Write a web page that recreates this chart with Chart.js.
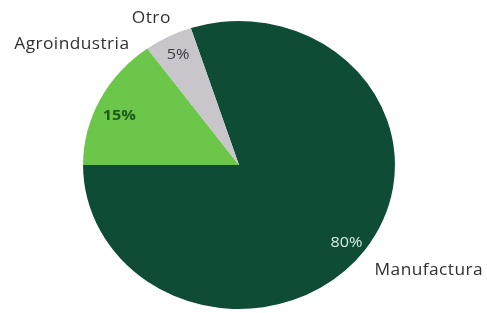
<!DOCTYPE html>
<html>
<head>
<meta charset="utf-8">
<script src="https://cdn.jsdelivr.net/npm/chart.js@4/dist/chart.umd.min.js"></script>
<style>
  html, body { margin: 0; padding: 0; background: #ffffff; }
  #wrap { width: 487px; height: 313px; }
</style>
</head>
<body>
<div id="wrap"><canvas id="sectorChart" width="487" height="313"></canvas></div>
<script>
// Sector shares (%)
const sectors = ['Manufactura', 'Agroindustria', 'Otro'];
const shares = [80, 15, 5];
const sliceColors = ['#0e4c35', '#6cc64a', '#c8c6ca'];

// label styling per slice (polar offsets: degrees from mid angle, radius factor)
const nameLabelStyle = [
    { dAngle: -5, radius: 1.42, color: '#303030' },
    { dAngle: 11, radius: 1.36, color: '#303030' },
    { dAngle: -2, radius: 1.16, color: '#303030' }
];
const pctLabelStyle = [
    { dAngle: 2, radius: 0.875, color: '#d6eedc', weight: 'normal' },
    { dAngle: -3, radius: 0.84, color: '#1f5a1a', weight: 'bold' },
    { dAngle: 0, radius: 0.86, color: '#3b3846', weight: 'normal' }
];

const STRETCH_X = 1.083; // original pie is slightly wider than tall

const stretchPlugin = {
    id: 'stretch',
    beforeDatasetsDraw(chart) {
        const arc = chart.getDatasetMeta(0).data[0];
        const ctx = chart.ctx;
        ctx.save();
        ctx.translate(arc.x, arc.y);
        ctx.scale(STRETCH_X, 1);
        ctx.translate(-arc.x, -arc.y);
    },
    afterDatasetsDraw(chart) {
        chart.ctx.restore();
    }
};

const labelPlugin = {
    id: 'sliceLabels',
    afterDraw(chart) {
        const ctx = chart.ctx;
        const meta = chart.getDatasetMeta(0);
        const drawText = (text, pos, font, color, spacing) => {
            ctx.save();
            ctx.translate(pos.x, pos.y);
            ctx.scale(STRETCH_X, 1);
            ctx.font = font;
            ctx.letterSpacing = spacing;
            ctx.fillStyle = color;
            ctx.textAlign = 'center';
            ctx.textBaseline = 'middle';
            ctx.fillText(text, 0, 0);
            ctx.restore();
        };
        meta.data.forEach((arc, i) => {
            const mid = (arc.startAngle + arc.endAngle) / 2;
            const r = arc.outerRadius;
            const put = (dDeg, factor) => {
                const a = mid + dDeg * Math.PI / 180;
                return {
                    x: arc.x + Math.cos(a) * r * factor * STRETCH_X,
                    y: arc.y + Math.sin(a) * r * factor
                };
            };

            // percentage inside the slice
            const ps = pctLabelStyle[i];
            drawText(shares[i] + '%', put(ps.dAngle, ps.radius),
                ps.weight + ' 15px "Open Sans"', ps.color, '0px');

            // category name outside
            const ns = nameLabelStyle[i];
            drawText(sectors[i], put(ns.dAngle, ns.radius),
                '16px "Open Sans"', ns.color, '0.4px');
        });
    }
};

new Chart(document.getElementById('sectorChart').getContext('2d'), {
    type: 'pie',
    data: {
        labels: sectors,
        datasets: [{
            data: shares,
            backgroundColor: sliceColors,
            borderWidth: 0
        }]
    },
    options: {
        responsive: false,
        animation: false,
        rotation: -18,
        layout: { padding: { top: 21, bottom: 4, left: 0, right: 9 } },
        plugins: {
            legend: { display: false },
            tooltip: { enabled: false }
        }
    },
    plugins: [stretchPlugin, labelPlugin]
});
</script>
</body>
</html>
